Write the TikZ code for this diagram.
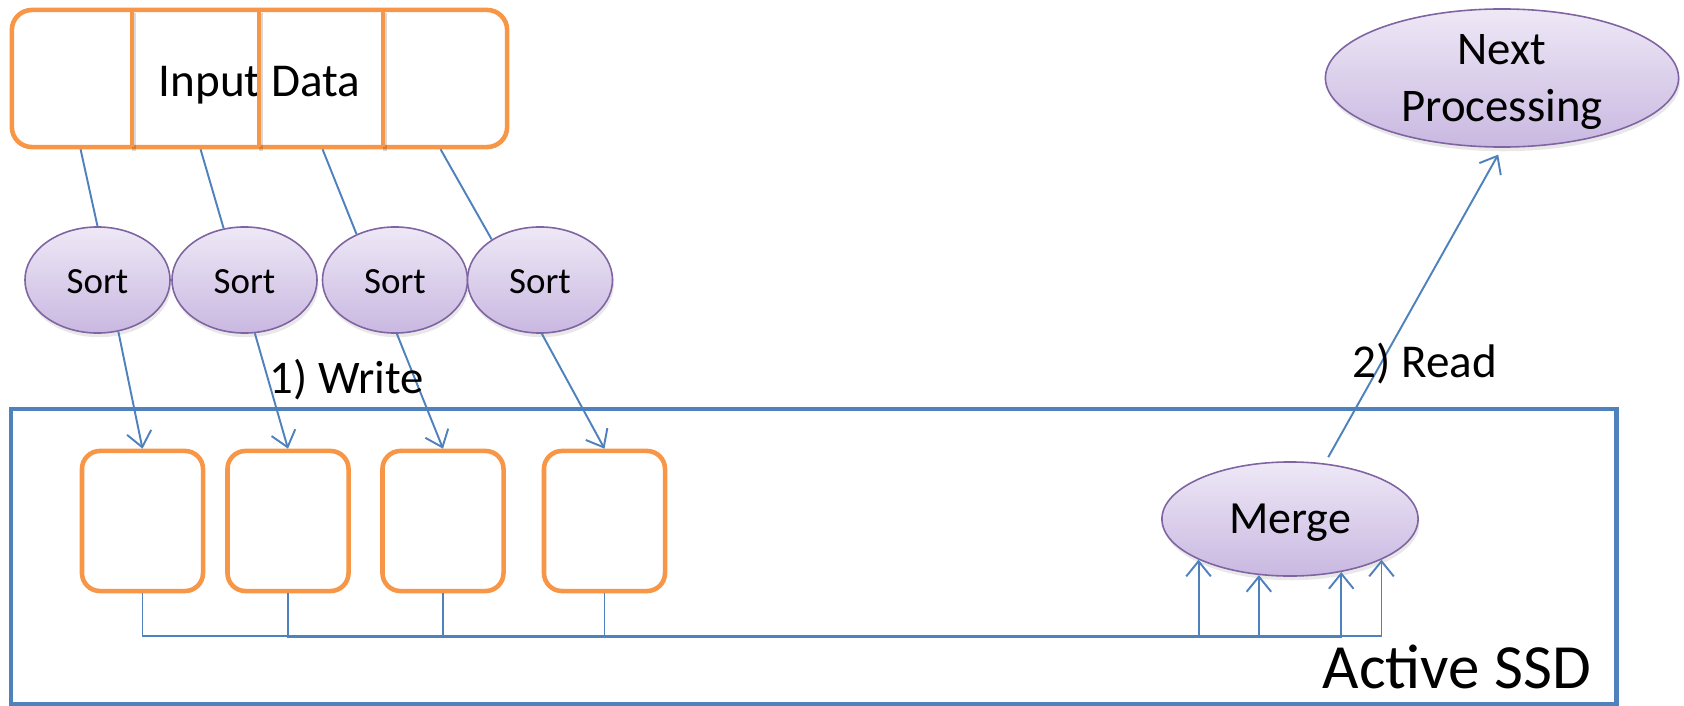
\documentclass[tikz,border=0pt]{standalone}
\usepackage{fontspec}
\setmainfont{Carlito}
\usetikzlibrary{arrows.meta,shapes.geometric,shadows}

\definecolor{chunkorange}{RGB}{247,150,70}
\definecolor{ssdblue}{RGB}{79,129,189}
\definecolor{opedge}{RGB}{128,100,162}
\definecolor{optop}{RGB}{238,232,246}
\definecolor{opbottom}{RGB}{201,184,225}

\tikzset{
  op/.style={ellipse,draw=opedge,line width=0.45pt,top color=optop,bottom color=opbottom,inner sep=0pt,text depth=0pt,
    drop shadow={opacity=0.18,shadow xshift=0.4pt,shadow yshift=-1.2pt}},
  chunk/.style={draw=chunkorange,line width=1.3pt,rounded corners=0.18cm,minimum width=1.21cm,minimum height=1.4cm},
  flow/.style={draw=ssdblue,line width=0.55pt},
  lbl/.style={anchor=base west,inner sep=0pt},
}

\begin{document}
\begin{tikzpicture}[x=0.01cm,y=-0.01cm,>={Straight Barb[length=4.3pt,width=7pt]}]
\useasboundingbox (0,0) rectangle (1684,706);

% the SSD
\node[draw=ssdblue,line width=1.15pt,minimum width=16.05cm,minimum height=2.95cm,inner sep=0pt] (ssd) at (813.5,556.5) {};
\node[lbl,font=\fontsize{17.9}{21}\selectfont] (ssdname) at (1322,688) {Active SSD};

% input split in four parts
\node[draw=chunkorange,line width=1.3pt,rounded corners=0.2cm,minimum width=4.95cm,minimum height=1.37cm,
  text height=10.5pt,text depth=0pt,font=\fontsize{13.4}{16}\selectfont] (input) at (259.5,78.5) {Input Data};
\foreach \x in {132,259,383} {
  \draw[black,opacity=0.15,line width=1.4pt] (\x+2,13) -- (\x+2,151);
  \draw[chunkorange,line width=1.4pt] (\x,10) -- (\x,147);
}

\foreach \x [count=\i] in {97.5,244.5,395,540}
  \node[op,minimum width=1.45cm,minimum height=1.06cm,text height=7.4pt,font=\fontsize{10.5}{12}\selectfont] (sort\i) at (\x,280) {Sort};

\foreach \d/\a [count=\i] in {71/90,191/112,313/130,431/140}
  \draw[flow] (input.south west) ++(\d,0) -- (sort\i.\a);

\foreach \x [count=\i] in {142.5,288,443,604.5}
  \node[chunk] (mem\i) at (\x,521) {};

\foreach \a [count=\i] in {292,281,272,272}
  \draw[flow,->] (sort\i.\a) -- (mem\i.north);

\node[lbl,font=\fontsize{13.3}{16}\selectfont] (write) at (269,393) {1) Write};

\node[op,minimum width=2.56cm,minimum height=1.14cm,text height=8pt,font=\fontsize{13.1}{15}\selectfont] (merge) at (1290,519) {Merge};

% runs back to the merge
\draw[flow,->] (mem1.south) -- (mem1.south |- 0,636) -| (merge.336);
\foreach \a [count=\i from 2] in {204,241,314}
  \draw[flow,->] (mem\i.south) -- (mem\i.south |- 0,637.5) -| (merge.\a);

\node[op,minimum width=3.53cm,minimum height=1.38cm,align=center,font=\fontsize{13.3}{16.2}\selectfont] (next) at (1502,78) {Next\\Processing};

\draw[flow,->,shorten <=2pt,shorten >=2.2pt] (merge.58) -- (next.south);
\node[lbl,font=\fontsize{13.4}{16}\selectfont] (read) at (1352,377) {2) Read};
\end{tikzpicture}
\end{document}
